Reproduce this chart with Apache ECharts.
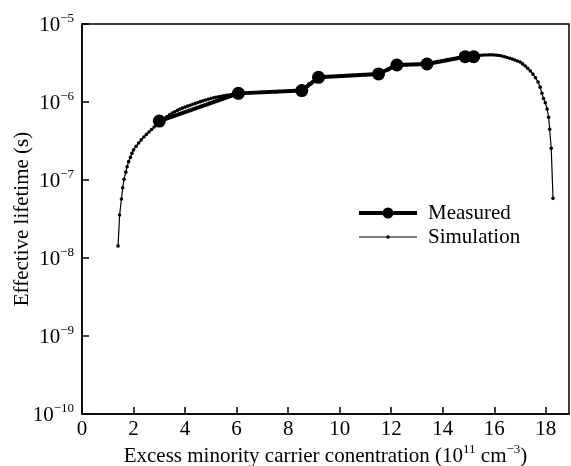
<!DOCTYPE html>
<html>
<head>
<meta charset="utf-8">
<script src="https://cdn.jsdelivr.net/npm/echarts@6/dist/echarts.min.js"></script>
<style>
html,body{margin:0;padding:0;background:#fff;}
#chart{width:571px;height:466px;}
</style>
</head>
<body>
<div id="chart"></div>
<script>
// ---- data ----
const measuredX = [3.00, 6.07, 8.53, 9.18, 11.51, 12.22, 13.39, 14.87, 15.20];
const measuredY = [5.7e-7, 1.29e-6, 1.40e-6, 2.07e-6, 2.29e-6, 2.98e-6, 3.07e-6, 3.81e-6, 3.81e-6];

const simX = [1.40, 1.46, 1.53, 1.58, 1.63, 1.70, 1.75, 1.81, 1.88, 1.94,
              2.00, 2.10, 2.20, 2.30, 2.40, 2.50, 2.60, 2.70, 2.80, 2.90,
              3.00, 3.10, 3.20, 3.30, 3.40, 3.50, 3.60, 3.70, 3.80, 3.90,
              4.00, 4.10, 4.20, 4.30, 4.40, 4.50, 4.60, 4.70, 4.80, 4.90,
              5.00, 5.10, 5.20, 5.30, 5.40, 5.50, 5.60, 5.70, 5.80, 5.90,
              6.00, 6.50, 7.00, 7.50, 8.00, 8.50, 8.80, 9.20, 9.60, 10.00,
              10.50, 11.00, 11.50, 11.90, 12.20, 12.60, 13.00, 13.40, 13.80, 14.20,
              14.60, 14.90, 15.20, 15.30, 15.40, 15.50, 15.60, 15.70, 15.80, 15.90,
              16.00, 16.10, 16.20, 16.30, 16.40, 16.50, 16.60, 16.70, 16.80, 16.90,
              17.00, 17.10, 17.20, 17.30, 17.40, 17.50, 17.60, 17.70, 17.78, 17.85,
              17.91, 17.98, 18.05, 18.11, 18.15, 18.21, 18.28];
const simY = [1.43e-8, 3.56e-8, 5.70e-8, 7.97e-8, 1.02e-7, 1.26e-7, 1.48e-7, 1.72e-7, 1.95e-7, 2.2e-7,
              2.43e-7, 2.7e-7, 2.98e-7, 3.27e-7, 3.56e-7, 3.84e-7, 4.12e-7, 4.45e-7, 4.78e-7, 5.15e-7,
              5.55e-7, 5.85e-7, 6.2e-7, 6.5e-7, 6.85e-7, 7.2e-7, 7.5e-7, 7.8e-7, 8.1e-7, 8.35e-7,
              8.6e-7, 8.85e-7, 9.1e-7, 9.35e-7, 9.6e-7, 9.85e-7, 1.01e-6, 1.035e-6, 1.06e-6, 1.085e-6,
              1.11e-6, 1.13e-6, 1.15e-6, 1.165e-6, 1.185e-6, 1.2e-6, 1.215e-6, 1.23e-6, 1.245e-6, 1.26e-6,
              1.28e-6, 1.31e-6, 1.33e-6, 1.35e-6, 1.38e-6, 1.41e-6, 1.7e-6, 2.07e-6, 2.12e-6, 2.16e-6,
              2.2e-6, 2.24e-6, 2.29e-6, 2.6e-6, 2.95e-6, 3.0e-6, 3.04e-6, 3.08e-6, 3.3e-6, 3.5e-6,
              3.7e-6, 3.82e-6, 3.88e-6, 3.92e-6, 3.95e-6, 3.98e-6, 4.0e-6, 4.01e-6, 4.02e-6, 4.02e-6,
              4.0e-6, 3.98e-6, 3.94e-6, 3.88e-6, 3.8e-6, 3.72e-6, 3.64e-6, 3.55e-6, 3.45e-6, 3.35e-6,
              3.25e-6, 3.08e-6, 2.9e-6, 2.7e-6, 2.5e-6, 2.28e-6, 2.05e-6, 1.8e-6, 1.55e-6, 1.29e-6,
              1.11e-6, 9.8e-7, 8.13e-7, 6.37e-7, 4.47e-7, 2.55e-7, 5.82e-8];

const xTicks = [0, 2, 4, 6, 8, 10, 12, 14, 16, 18];
const yTickExponents = [-10, -9, -8, -7, -6, -5];
const seriesNames = ['Measured', 'Simulation'];
const xTitle = ['Excess minority carrier conentration (10', '11', ' cm', '\u22123', ')'];
const yTitle = 'Effective lifetime (s)';

// ---- chart ----
const FONT = 'Liberation Serif';
const FS = 21;
const SUP = 13;
const chart = echarts.init(document.getElementById('chart'), null, {renderer: 'canvas'});

const measuredData = measuredX.map((x, i) => [x, measuredY[i]]);
const simData = simX.map((x, i) => [x, simY[i]]);

const supRich = {
  b: {fontFamily: FONT, fontSize: FS, color: '#000', lineHeight: 24, verticalAlign: 'bottom'},
  s: {fontFamily: FONT, fontSize: SUP, color: '#000', lineHeight: 24, verticalAlign: 'top'}
};

// legend icons (path drawn in itemWidth x itemHeight box; zero-area points fix the bbox)
const measuredIcon = 'path://M0 0L0.001 0Z M64 11L64.001 11Z M0 3.5L58 3.5L58 7.5L0 7.5Z M23.5 5.5A5.5 5.5 0 1 1 34.5 5.5A5.5 5.5 0 1 1 23.5 5.5Z';
const simIcon = 'path://M0 0L0.001 0Z M64 11L64.001 11Z M0 5L58 5L58 6.1L0 6.1Z M27.3 5.5A1.7 1.7 0 1 1 30.7 5.5A1.7 1.7 0 1 1 27.3 5.5Z';

chart.setOption({
  animation: false,
  backgroundColor: '#fff',
  grid: {left: 82, right: 2, top: 24, bottom: 52, show: true, borderColor: '#000', borderWidth: 1.5,
         containLabel: false, outerBoundsMode: 'none'},
  legend: {
    orient: 'vertical', left: 359, top: 201, padding: 0,
    itemWidth: 64, itemHeight: 11, itemGap: 0,
    textStyle: {fontFamily: FONT, fontSize: FS, color: '#000', lineHeight: 24},
    itemStyle: {borderWidth: 0},
    data: [
      {name: seriesNames[0], icon: measuredIcon, itemStyle: {color: '#000', borderWidth: 0}},
      {name: seriesNames[1], icon: simIcon, itemStyle: {color: '#000', borderWidth: 0}}
    ]
  },
  xAxis: {
    type: 'value', min: 0, max: 18.9, interval: 2,
    axisLine: {show: true, lineStyle: {color: '#000', width: 1.5}},
    axisTick: {show: true, inside: true, length: 7, lineStyle: {color: '#000', width: 1.5}},
    axisLabel: {
      showMaxLabel: false,
      fontFamily: FONT, fontSize: FS, color: '#000', margin: 5,
      formatter: v => (xTicks.indexOf(v) >= 0 ? String(v) : '')
    },
    splitLine: {show: false},
    name: '{a|' + xTitle[0] + '}{s|' + xTitle[1] + '}{a|' + xTitle[2] + '}{s|' + xTitle[3] + '}{a|' + xTitle[4] + '}',
    nameLocation: 'middle', nameGap: 29, nameMoveOverlap: false,
    nameTextStyle: {
      rich: {
        a: {fontFamily: FONT, fontSize: FS, color: '#000', lineHeight: 24, verticalAlign: 'bottom'},
        s: {fontFamily: FONT, fontSize: SUP, color: '#000', lineHeight: 24, verticalAlign: 'top'}
      }
    }
  },
  yAxis: {
    type: 'log', logBase: 10, min: 1e-10, max: 1e-5,
    axisLine: {show: true, lineStyle: {color: '#000', width: 1.5}},
    axisTick: {show: true, inside: true, length: 7, lineStyle: {color: '#000', width: 1.5}},
    minorTick: {show: false},
    axisLabel: {
      fontFamily: FONT, fontSize: FS, color: '#000', margin: 8,
      formatter: v => {
        const e = Math.round(Math.log10(v));
        if (yTickExponents.indexOf(e) < 0) return '';
        return '{b|10}{s|\u2212' + Math.abs(e) + '}';
      },
      rich: supRich
    },
    splitLine: {show: false},
    name: yTitle, nameLocation: 'middle', nameGap: 49, nameRotate: 90, nameMoveOverlap: false,
    nameTextStyle: {fontFamily: FONT, fontSize: FS, color: '#000'}
  },
  series: [
    {
      name: seriesNames[0], type: 'line', data: measuredData,
      symbol: 'circle', symbolSize: 13, showSymbol: true,
      lineStyle: {color: '#000', width: 4},
      itemStyle: {color: '#000', borderWidth: 0},
      z: 2
    },
    {
      name: seriesNames[1], type: 'line', data: simData,
      symbol: 'circle', symbolSize: 3.6, showSymbol: true,
      lineStyle: {color: '#000', width: 1.2},
      itemStyle: {color: '#000', borderWidth: 0},
      z: 3
    }
  ]
});
</script>
</body>
</html>
